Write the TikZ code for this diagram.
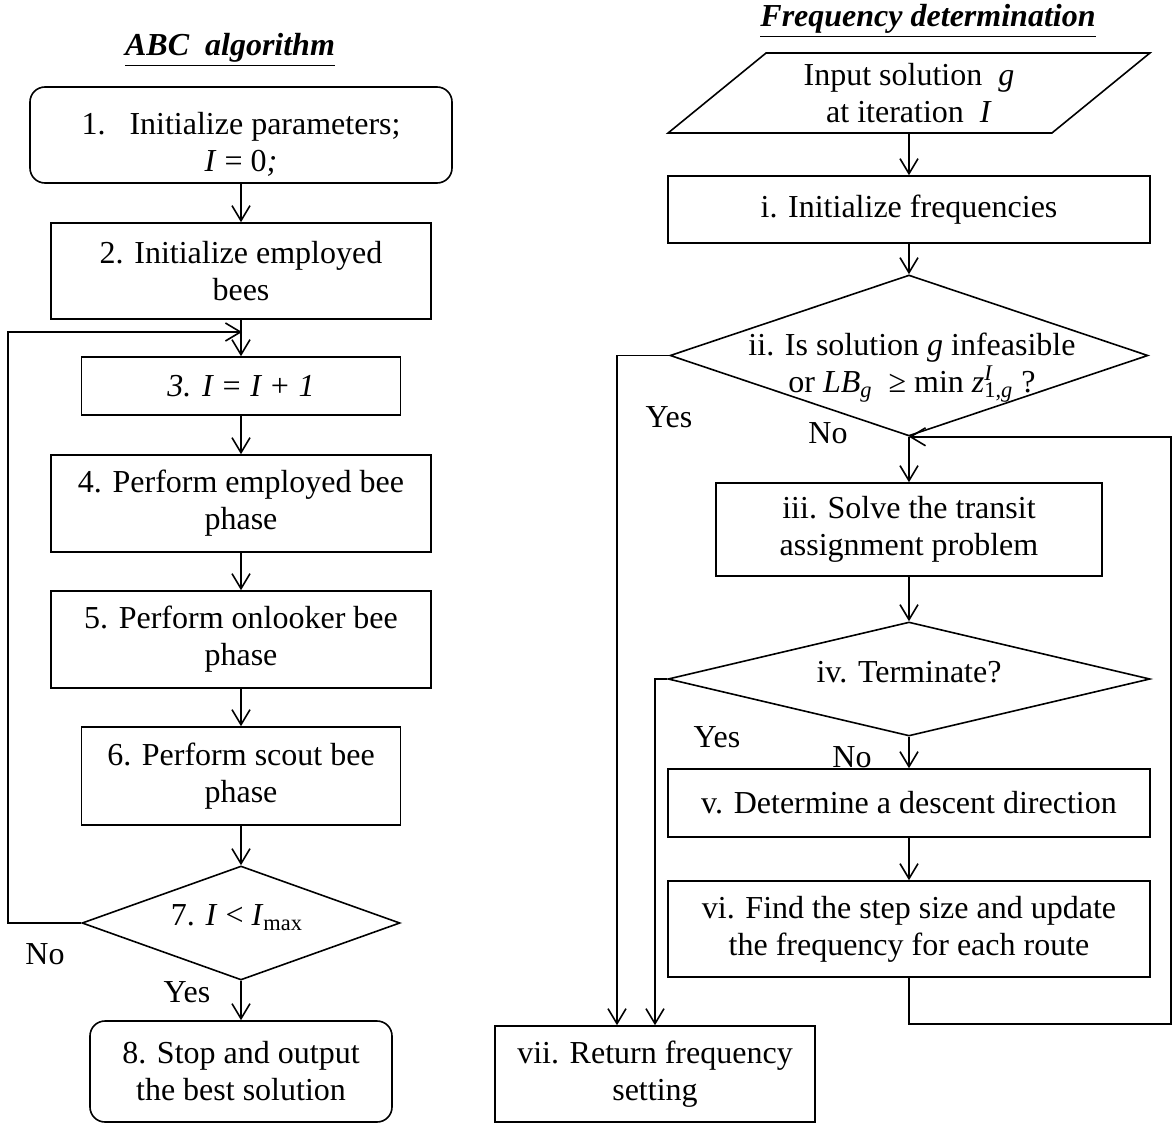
\documentclass[tikz,border=0pt]{standalone}
\usepackage{fontspec}
\setmainfont{Liberation Serif}
\usetikzlibrary{positioning,shapes.geometric,arrows.meta}

\begin{document}
\begin{tikzpicture}[x=0.5pt,y=-0.5pt,
	font=\fontsize{16}{18.5}\selectfont,
	box/.style={rectangle, draw=black, line width=0.8pt, align=center, inner sep=0pt},
	roundbox/.style={box, rounded corners=7.5pt},
	decision/.style={diamond, draw=black, line width=0.8pt, inner sep=0pt},
	inputbox/.style={trapezium, trapezium left angle=39.5, trapezium right angle=140.5, trapezium stretches=true, draw=black, line width=0.8pt, align=center, inner sep=0pt},
	arr/.style={line width=0.8pt, -{Straight Barb[length=7.5pt,width=9pt]}},
	]
	\useasboundingbox (0,0) rectangle (1173,1124);
	%Nodes ABC
	\node (abc) at (230,50) {\underline{\textbf{\textit{ABC\ \ algorithm}}}};
	\node[roundbox, minimum width=211pt, minimum height=48pt]	(b1) at (241,135)	{\rule{0pt}{20pt}1.\ \ \ Initialize parameters;\\ \textit{I} = 0\textit{;}};
	\node[box, minimum width=190pt, minimum height=48pt]	(b2) at (241,271)	{2. Initialize employed\\ bees};
	\node[box, minimum width=159.5pt, minimum height=29pt]	(b3) at (241,386)	{\textit{3. I = I + 1}};
	\node[box, minimum width=190pt, minimum height=48.5pt]	(b4) at (241,503.5)	{4. Perform employed bee\\ phase};
	\node[box, minimum width=190pt, minimum height=48.5pt]	(b5) at (241,639.5)	{5. Perform onlooker bee\\ phase};
	\node[box, minimum width=159.5pt, minimum height=49pt]	(b6) at (241,776)	{6. Perform scout bee\\ phase};
	\node[decision, minimum width=159pt, minimum height=57pt]	(d7) at (241,923)	{};
	\node (d7txt) at (237,918) {7. \textit{I} < \textit{I}\textsubscript{max}};
	\node[roundbox, minimum width=151pt, minimum height=50.5pt]	(b8) at (241,1071.5)	{8. Stop and output\\ the best solution};
	\node (no7) at (45,954) {No};
	\node (yes7) at (187,992) {Yes};
	%Nodes frequency
	\node (freq) at (928,21) {\underline{\textbf{\textit{Frequency determination}}}};
	\node[inputbox, minimum width=241pt, minimum height=40pt]	(in) at (909,93)	{Input solution\ \ \textit{g}\\ at iteration\ \ \textit{I}};
	\node[box, minimum width=241pt, minimum height=33.5pt]	(fi) at (909,209.5)	{i. Initialize frequencies};
	\node[decision, minimum width=239pt, minimum height=80.5pt]	(d2) at (909,355.5)	{};
	\node[align=center] (d2txt) at (912,368) {ii. Is solution \textit{g} infeasible\\ or \textit{LB}\textsubscript{\textit{g}}\ \ ≥ min \textit{z}\rlap{\textsuperscript{\textit{I}}}\textsubscript{1,\textit{g}}\ ?};
	\node[box, minimum width=193pt, minimum height=46.5pt]	(b3r) at (909,529.5)	{iii. Solve the transit\\ assignment problem};
	\node[decision, minimum width=241pt, minimum height=57pt]	(d4) at (909,679)	{};
	\node (d4txt) at (909,672) {iv. Terminate?};
	\node[box, minimum width=241pt, minimum height=34pt]	(b5r) at (909,803)	{v. Determine a descent direction};
	\node[box, minimum width=241pt, minimum height=48pt]	(b6r) at (909,929)	{vi. Find the step size and update\\ the frequency for each route};
	\node[box, minimum width=160pt, minimum height=48pt]	(b7) at (655,1074)	{vii. Return frequency\\ setting};
	\node (yes2) at (669,417) {Yes};
	\node (no2) at (828,433) {No};
	\node (yes4) at (717,737) {Yes};
	\node (no4) at (852,757) {No};
	\coordinate (lp) at (8,332);
	\coordinate (lj) at (242,332);
	\coordinate (rb) at (1171,1024);

	%Edges
	\draw[arr] (b1.south) -- (b2.north);
	\draw[arr] (b2.south) -- (b3.north);
	\draw[arr] (b3.south) -- (b4.north);
	\draw[arr] (b4.south) -- (b5.north);
	\draw[arr] (b5.south) -- (b6.north);
	\draw[arr] (b6.south) -- (d7.north);
	\draw[arr] (d7.south) -- (b8.north);
	\draw[arr] (d7.west) -| (lp) -- (lj);
	\draw[arr] (in.south) -- (fi.north);
	\draw[arr] (fi.south) -- (d2.north);
	\draw[arr] (d2.south) -- (b3r.north);
	\draw[arr] (b3r.south) -- (d4.north);
	\draw[arr] (d4.south) -- (b5r.north);
	\draw[arr] (b5r.south) -- (b6r.north);
	\draw[arr] (d2.west) -| ([xshift=-19pt]b7.north);
	\draw[arr] (d4.west) -| (b7.north);
	\draw[arr] (b6r.south) |- (rb) |- (d2.south);
\end{tikzpicture}
\end{document}
